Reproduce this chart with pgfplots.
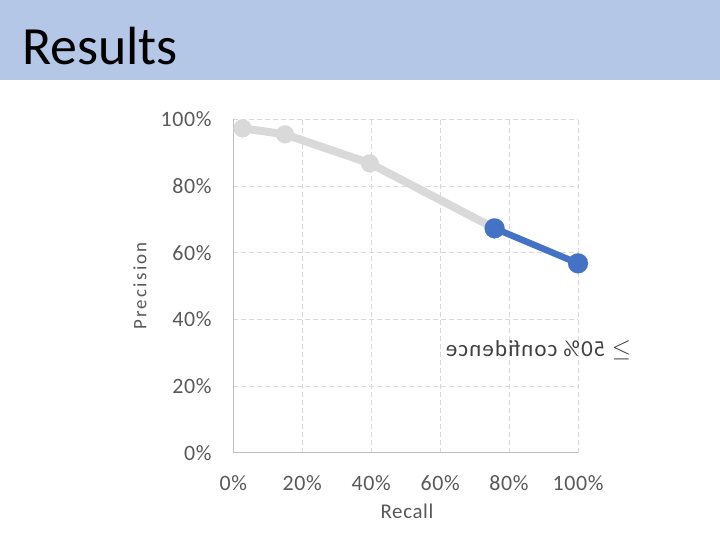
\documentclass[border=0pt]{standalone}
\usepackage{fontspec}
\setmainfont{Carlito}
\newfontfamily\tickfont[LetterSpace=3]{Carlito}
\newfontfamily\labfont[LetterSpace=3]{Carlito}
\newfontfamily\ylabfont[LetterSpace=12]{Carlito}
\newfontfamily\notefont[LetterSpace=5]{Carlito}
\usepackage{graphicx}
\usepackage{pgfplots}
\pgfplotsset{compat=1.18}

\definecolor{band}{HTML}{B4C7E7}
\definecolor{pgray}{HTML}{D9D9D9}
\definecolor{pblue}{HTML}{4472C4}
\definecolor{gridc}{HTML}{D9D9D9}
\definecolor{axisc}{HTML}{BFBFBF}
\definecolor{txt}{HTML}{595959}

\begin{document}
\begin{tikzpicture}
% slide background and title band
\path[use as bounding box, fill=white] (0,0) rectangle (720bp,540bp);
\fill[band] (0,460bp) rectangle (720bp,540bp);
\node[anchor=base west, inner sep=0pt, font=\fontsize{54}{60}\selectfont] at (22bp,475bp) {Results};

\begin{axis}[
    at={(233.3bp,87.3bp)}, anchor=south west,
    scale only axis, width=344.7bp, height=333.4bp,
    xmin=0, xmax=100, ymin=0, ymax=100,
    clip=false,
    xtick={0,20,...,100}, ytick={0,20,...,100},
    xticklabels={0\%,20\%,40\%,60\%,80\%,100\%},
    yticklabels={0\%,20\%,40\%,60\%,80\%,100\%},
    axis lines*=left,
    axis line style={draw=axisc, line width=0.75bp},
    major tick length=0pt,
    grid=major,
    grid style={draw=gridc, line width=0.75bp, dash pattern=on 5bp off 3bp},
    tick label style={font=\tickfont\fontsize{22}{26}\selectfont, text=txt, inner sep=0pt},
    xticklabel style={anchor=base, yshift=-37.3bp},
    yticklabel style={anchor=base east, xshift=-21.6bp, yshift=-7.4bp},
    xlabel={Recall}, ylabel={Precision},
    xlabel style={at={(axis description cs:0.504,-0.197)}, anchor=base,
        font=\labfont\fontsize{21}{25}\selectfont, text=txt, inner sep=0pt},
    ylabel style={at={(axis description cs:-0.2707,0.5)}, anchor=center,
        font=\ylabfont\fontsize{19}{23}\selectfont, text=txt, inner sep=0pt},
]
\addplot[color=pgray, line width=8bp, mark=*, mark size=9bp,
    mark options={line width=0.1bp}]
    coordinates {(2.7,97.3) (15.0,95.5) (39.6,86.8) (75.8,67.3)};
\addplot[color=pblue, line width=6.5bp, mark=*, mark size=10bp,
    mark options={line width=0.1bp}]
    coordinates {(75.8,67.3) (100,56.8)};
\end{axis}

% mirrored annotation
\node[inner sep=0pt, text=black!75, font=\notefont\fontsize{23}{27}\selectfont]
    at (538.5bp,190bp) {\reflectbox{$\geq$ 50\% confidence}};
\end{tikzpicture}
\end{document}
